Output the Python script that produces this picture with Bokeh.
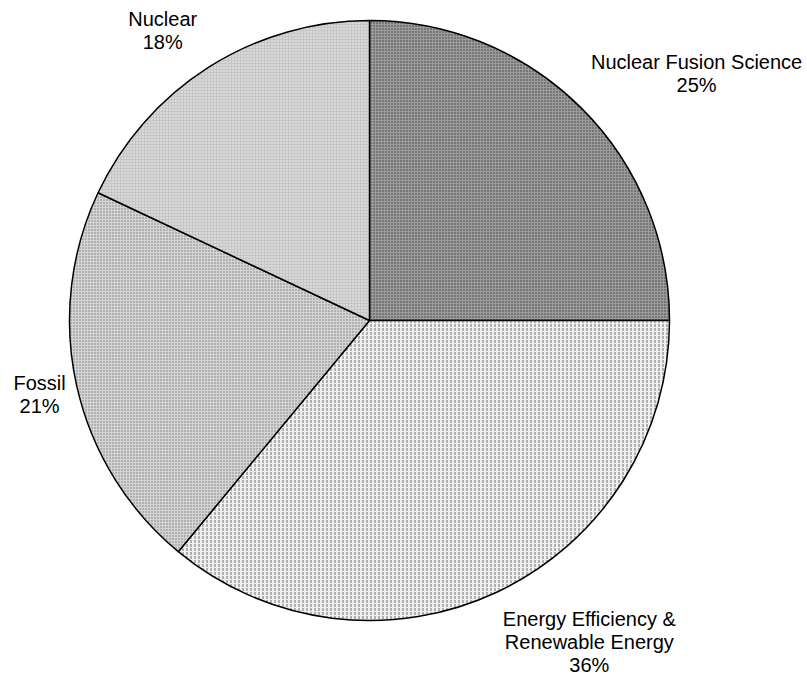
import math
from bokeh.plotting import figure
from bokeh.models import Range1d, ColumnDataSource
from bokeh.core.properties import value
from bokeh.embed import file_html
from bokeh.resources import INLINE

categories = ["Nuclear Fusion Science", "Energy Efficiency & Renewable Energy", "Fossil", "Nuclear"]
label_lines = [["Nuclear Fusion Science"], ["Energy Efficiency &", "Renewable Energy"], ["Fossil"], ["Nuclear"]]
values = [25, 36, 21, 18]

# styles
fill_colors = ["#9c9c9c", "#f0f0f0", "#d4d4d4", "#c6c6c6"]
hatch_colors = ["#3a3a3a", "#707070", "#7a7a7a", "#f4f4f4"]
hatch_patterns = ["dot", "vertical_dash", "dot", "dot"]
hatch_scales = [3, 4, 3, 3]

W, H = 807, 675
p = figure(width=W, height=H, output_backend="svg", toolbar_location=None,
           x_range=Range1d(0, W), y_range=Range1d(675 - H, 675),
           min_border=0, outline_line_color=None)
p.axis.visible = False
p.grid.visible = False
p.background_fill_color = "white"
p.border_fill_color = "white"

cx, cy, r = 369, 675 - 320, 300
total = sum(values)
starts, ends, mids = [], [], []
a = math.pi / 2
for v in values:
    sweep = 2 * math.pi * v / total
    starts.append(a - sweep)
    ends.append(a)
    mids.append(a - sweep / 2)
    a -= sweep

src = ColumnDataSource(dict(x=[cx] * 4, y=[cy] * 4, s=starts, e=ends,
                            fc=fill_colors, hc=hatch_colors, hp=hatch_patterns, hs=hatch_scales))
p.wedge(x="x", y="y", radius=r, start_angle="s", end_angle="e", source=src,
        fill_color="fc", hatch_color="hc", hatch_pattern="hp", hatch_scale="hs",
        hatch_weight=1, line_color="black", line_width=1.5)

# label layout: radial distance factor and angle nudges (degrees) per slice
label_r = [1.367, 1.297, 1.127, 1.187]
label_da = [-7.9, 9.2, 0.0, 3.1]
line_h = 23
for i, lines in enumerate(label_lines):
    ang = mids[i] + math.radians(label_da[i])
    lx = cx + r * label_r[i] * math.cos(ang)
    ly = cy + r * label_r[i] * math.sin(ang)
    all_lines = lines + [f"{values[i]}%"]
    n = len(all_lines)
    ys = [ly + line_h * ((n - 1) / 2 - k) for k in range(n)]
    p.text(x=[lx] * n, y=ys, text=all_lines, text_align="center", text_baseline="middle",
           text_font=value("Liberation Sans"), text_font_size="20px", text_color="black")

open("out.html", "w").write(file_html(p, INLINE))
